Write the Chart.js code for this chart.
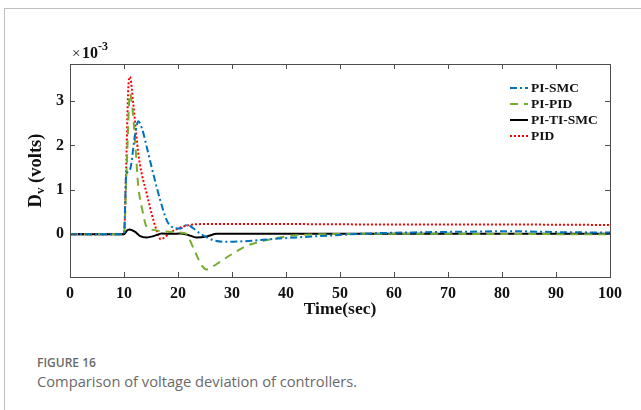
<!DOCTYPE html>
<html>
<head>
<meta charset="utf-8">
<script src="https://cdn.jsdelivr.net/npm/chart.js@4"></script>
<style>
  html,body{margin:0;padding:0;background:#fff;}
  body{width:641px;height:410px;position:relative;overflow:hidden;}
  #frame{position:absolute;left:4px;top:8px;width:700px;height:500px;border-left:1px solid #bdbdbd;border-top:1px solid #bdbdbd;}
  #wrap{position:absolute;left:0;top:0;width:641px;height:330px;}
  #fig{position:absolute;left:37px;top:354px;font-family:"Open Sans","Noto Sans",sans-serif;color:#6a6a6a;font-size:12px;font-weight:600;letter-spacing:0;}
  #cap{position:absolute;left:37px;top:371px;font-family:"Open Sans","Noto Sans",sans-serif;color:#6a6a6a;font-size:14.7px;}
</style>
</head>
<body>
<div id="frame"></div>
<div id="wrap"><canvas id="c" width="641" height="330"></canvas></div>
<div id="fig">FIGURE 16</div>
<div id="cap">Comparison of voltage deviation of controllers.</div>
<script>
const seriesNames = ["PI-SMC", "PI-PID", "PI-TI-SMC", "PID"];
const xTicks = [0,10,20,30,40,50,60,70,80,90,100];
const yTicks = [0,1,2,3];

const tPISMC = [0,10,10.4,11.1,12.0,12.65,13.4,14.2,15.4,16.7,17.9,18.8,20.4,21.7,23,24.1,26.5,29,33,37,42,46.3,55.6,64.8,74,82,90,100];
const vPISMC = [0,0,1.3,1.45,2.2,2.54,2.35,1.97,1.37,0.77,0.32,0.17,0.13,0.21,0.12,0.02,-0.13,-0.17,-0.15,-0.11,-0.07,-0.04,0.02,0.045,0.06,0.07,0.05,0.04];

const tPIPID = [0,10,10.5,11.1,11.5,12.04,12.65,13.27,14.2,15.4,17,19,21,21.6,23,24.3,25.3,26.5,28,30.2,32.7,36.4,38.9,41.9,46,55,70,100];
const vPIPID = [0,0,1.5,3.17,2.9,2.12,1.07,0.62,0.17,0.1,0.07,0.05,0.03,0,-0.35,-0.68,-0.79,-0.72,-0.6,-0.43,-0.26,-0.13,-0.07,-0.02,0,0.01,0.01,0];

const tPITISMC = [0,10,10.5,11,12,13,14.2,15.5,17,19,20.4,22,23.4,25.3,27.2,30,50,100];
const vPITISMC = [0,0,0.08,0.11,0.06,-0.04,-0.07,-0.04,0.02,0.01,0.02,-0.02,-0.07,-0.05,0.01,0.01,0.01,0.01];

const tPID = [0,10,10.4,10.8,11.1,11.7,12.65,13.27,14.2,15.1,16.0,16.8,17.6,18.5,20,22.2,25,30,40,60,80,100];
const vPID = [0,0,1.5,3.3,3.54,2.95,1.82,1.37,0.92,0.47,0.1,-0.11,-0.06,0.03,0.13,0.21,0.23,0.23,0.23,0.22,0.22,0.21];

const pts = (t,v)=>t.map((x,i)=>({x:x,y:v[i]}));
const SERIF = "'Liberation Serif','Times New Roman',serif";

const boxPlugin = {
  id:'box',
  afterDraw(chart){
    const ctx = chart.ctx, a = chart.chartArea;
    const xs = chart.scales.x, ys = chart.scales.y;
    ctx.save();
    ctx.strokeStyle = '#4d4d4d';
    ctx.lineWidth = 1;
    ctx.setLineDash([]);
    ctx.strokeRect(Math.round(a.left)+0.5, Math.round(a.top)+0.5, Math.round(a.right-a.left), Math.round(a.bottom-a.top));
    ctx.beginPath();
    xTicks.forEach(v=>{
      const px = Math.round(xs.getPixelForValue(v))+0.5;
      ctx.moveTo(px,a.bottom); ctx.lineTo(px,a.bottom-5);
      ctx.moveTo(px,a.top); ctx.lineTo(px,a.top+5);
    });
    yTicks.forEach(v=>{
      const py = Math.round(ys.getPixelForValue(v))+0.5;
      ctx.moveTo(a.left,py); ctx.lineTo(a.left+5,py);
      ctx.moveTo(a.right,py); ctx.lineTo(a.right-5,py);
    });
    ctx.stroke();
    // exponent label
    ctx.fillStyle = '#111';
    ctx.textBaseline = 'alphabetic';
    ctx.font = "15px " + SERIF;
    ctx.fillText("\u00d7", a.left+2, a.top-6);
    ctx.font = "bold 16px " + SERIF;
    ctx.fillText("10", a.left+12, a.top-6);
    ctx.font = "bold 12px " + SERIF;
    ctx.fillText("-3", a.left+28, a.top-14);
    // y axis title with subscript
    ctx.save();
    ctx.translate(36, (a.top+a.bottom)/2);
    ctx.rotate(-Math.PI/2);
    const p1 = "D", p3 = " (volts)";
    ctx.font = "bold 18.5px " + SERIF; const w1 = ctx.measureText(p1).width;
    ctx.font = "bold 13px " + SERIF; const w2 = ctx.measureText("v").width;
    ctx.font = "bold 18.5px " + SERIF; const w3 = ctx.measureText(p3).width;
    let x0 = -(w1+w2+w3)/2;
    ctx.textBaseline = 'middle';
    ctx.fillText(p1, x0, 0);
    ctx.font = "bold 13px " + SERIF;
    ctx.fillText("v", x0+w1, 5);
    ctx.font = "bold 18.5px " + SERIF;
    ctx.fillText(p3, x0+w1+w2, 0);
    ctx.restore();
    // legend
    const lx = 510, ly0 = 88, dy = 16;
    chart.data.datasets.forEach((ds,i)=>{
      const y = ly0 + i*dy;
      ctx.save();
      ctx.strokeStyle = ds.borderColor;
      ctx.lineWidth = ds.borderWidth;
      ctx.setLineDash(ds.borderDash || []);
      ctx.beginPath(); ctx.moveTo(lx,y); ctx.lineTo(lx+18,y); ctx.stroke();
      ctx.restore();
      ctx.fillStyle = '#111';
      ctx.font = "bold 13.5px " + SERIF;
      ctx.textBaseline = 'middle';
      ctx.fillText(ds.label, lx+21, y+1);
    });
    ctx.restore();
  }
};

new Chart(document.getElementById('c'), {
  type:'line',
  data:{
    datasets:[
      {label:seriesNames[0], data:pts(tPISMC,vPISMC), borderColor:'#0072BD', borderWidth:2, borderDash:[7,3,2,3]},
      {label:seriesNames[1], data:pts(tPIPID,vPIPID), borderColor:'#77AC30', borderWidth:2, borderDash:[8,6]},
      {label:seriesNames[2], data:pts(tPITISMC,vPITISMC), borderColor:'#000000', borderWidth:2},
      {label:seriesNames[3], data:pts(tPID,vPID), borderColor:'#FF0000', borderWidth:2, borderDash:[2,2]}
    ]
  },
  options:{
    responsive:false,
    animation:false,
    events:[],
    parsing:true,
    elements:{point:{radius:0}, line:{cubicInterpolationMode:'monotone', fill:false}},
    layout:{padding:{left:0,right:31,top:64,bottom:0}},
    plugins:{legend:{display:false}, tooltip:{enabled:false}},
    scales:{
      x:{
        type:'linear', min:0, max:100,
        afterBuildTicks(s){ s.ticks = xTicks.map(v=>({value:v})); },
        grid:{display:false, drawTicks:false},
        border:{display:false},
        ticks:{padding:7, color:'#111', font:{family:SERIF, weight:'bold', size:16}, maxRotation:0, autoSkip:false},
        title:{display:true, text:'Time(sec)', color:'#111', font:{family:SERIF, weight:'bold', size:17.5}, padding:{top:-4,bottom:10}},
        afterFit(s){ s.height = 53; }
      },
      y:{
        type:'linear', min:-0.96, max:3.83,
        afterBuildTicks(s){ s.ticks = yTicks.map(v=>({value:v})); },
        grid:{display:false, drawTicks:false},
        border:{display:false},
        ticks:{padding:6, color:'#111', font:{family:SERIF, weight:'bold', size:16}},
        afterFit(s){ s.width = 70; }
      }
    }
  },
  plugins:[boxPlugin]
});
</script>
</body>
</html>
